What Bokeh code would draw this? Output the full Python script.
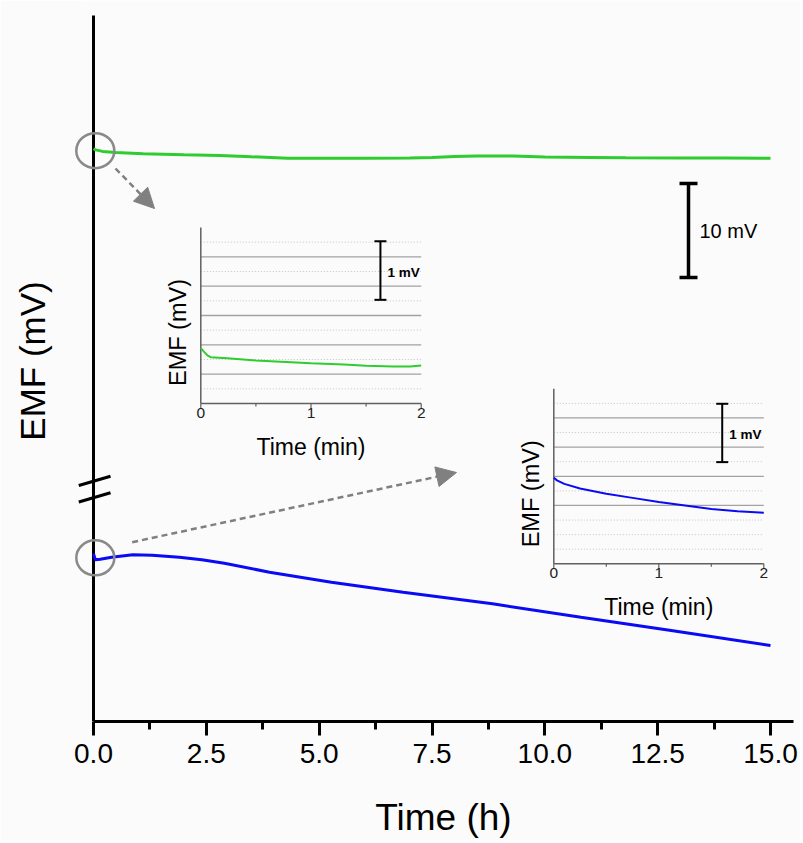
import math
from bokeh.plotting import figure
from bokeh.models import Range1d, FixedTicker, PrintfTickFormatter, Arrow, NormalHead
from bokeh.core.properties import value
from bokeh.embed import file_html
from bokeh.resources import INLINE

# ---------------- data ----------------
x_ticks = [0, 2.5, 5, 7.5, 10, 12.5, 15]
x_minor = [1.25, 3.75, 6.25, 8.75, 11.25, 13.75]

# main traces: time (h) and EMF change (mV) relative to start
green_t = [0, 0.05, 0.2, 0.5, 1.1, 2.0, 2.8, 3.5, 4.3, 5.0, 6.0, 7.0, 7.5, 8.0, 8.5, 9.3, 10.0, 11.0, 11.8, 13.0, 14.0, 15.0]
green_dv = [0, -0.12, -0.28, -0.40, -0.53, -0.64, -0.71, -0.85, -1.00, -1.01, -1.00, -0.98, -0.92, -0.82, -0.76, -0.78, -0.89, -0.93, -0.96, -0.98, -0.99, -1.00]
blue_t = [0, 0.04, 0.15, 0.4, 0.87, 1.3, 1.9, 2.4, 2.9, 3.9, 5.27, 6.86, 8.84, 10.8, 12.8, 15.0]
blue_dv = [0.2, -0.45, -0.40, -0.18, 0.07, 0.03, -0.18, -0.45, -0.82, -1.78, -2.84, -3.90, -5.14, -6.56, -7.98, -9.57]
green_level = 60.93   # display level of the green trace on the broken axis (mV)
blue_level = 17.66    # display level of the blue trace (mV)
scale_bar_mV = 10

# insets: time (min) and EMF (mV, arbitrary offset)
inset_ticks = [0, 1, 2]
inset_minor = [0.5, 1.5]
green_in_t = [0, 0.03, 0.06, 0.09, 0.24, 0.5, 1.0, 1.3, 1.5, 1.75, 1.9, 2.0]
green_in_v = [0.943, 0.88, 0.82, 0.789, 0.772, 0.733, 0.687, 0.664, 0.642, 0.630, 0.632, 0.647]
blue_in_t = [0, 0.03, 0.1, 0.25, 0.5, 0.75, 1.0, 1.25, 1.5, 1.75, 2.0]
blue_in_v = [1.475, 1.43, 1.37, 1.29, 1.20, 1.13, 1.06, 1.00, 0.94, 0.90, 0.875]
inset1_solid = [0.5, 1.0, 1.5, 2.0, 2.5]
inset1_dot = [0.25, 0.75, 1.25, 1.75, 2.25, 2.75]
inset2_solid = [1.0, 1.5, 2.0, 2.5]
inset2_dot = [0.25, 0.5, 0.75, 1.25, 1.75, 2.25, 2.75]
inset_scale_mV = 1

# ---------------- layout ----------------
W, H = 800, 840
FL, FR, FT, FB = 86, 800, 0, 721      # frame box in figure pixels
X0PX = 93                              # pixel of t = 0
KX = 677 / 15                          # px per hour
KY = 9.4                               # px per mV
FONT = value("Liberation Sans")
BG = "#fbfbfb"

x_start = -(X0PX - FL) / KX
x_end = (FR - X0PX) / KX
y_end = (FB - FT) / KY

def px(fx, fy):
    """figure pixel -> main data coords"""
    return (fx - X0PX) / KX, (FB - fy) / KY

p = figure(width=W, height=H, output_backend="svg", toolbar_location=None,
           x_range=Range1d(x_start, x_end), y_range=Range1d(0, y_end),
           min_border_left=FL, min_border_right=W - FR, min_border_top=FT,
           min_border_bottom=H - FB, background_fill_color=BG, border_fill_color=BG)
p.title.visible = False
p.outline_line_color = None
p.grid.visible = False

xa = p.xaxis[0]
xa.ticker = FixedTicker(ticks=x_ticks, minor_ticks=x_minor)
xa.formatter = PrintfTickFormatter(format="%.1f")
xa.bounds = (0, px(793, 0)[0])
xa.axis_line_width = 3
xa.major_tick_line_width = 3
xa.minor_tick_line_width = 3
xa.major_tick_out = 14
xa.major_tick_in = 0
xa.minor_tick_out = 8
xa.minor_tick_in = 0
xa.major_label_text_font = "Liberation Sans"
xa.major_label_text_font_size = "28px"
xa.major_label_text_color = "black"
xa.major_label_standoff = 8
xa.axis_label = "Time (h)"
xa.axis_label_text_font = "Liberation Sans"
xa.axis_label_text_font_size = "37px"
xa.axis_label_text_font_style = "normal"
xa.axis_label_text_color = "black"
xa.axis_label_standoff = 31

ya = p.yaxis[0]
ya.ticker = FixedTicker(ticks=[])
ya.axis_line_color = None
ya.major_tick_line_color = None
ya.minor_tick_line_color = None
ya.axis_label = "EMF (mV)"
ya.axis_label_text_font = "Liberation Sans"
ya.axis_label_text_font_size = "35px"
ya.axis_label_text_font_style = "normal"
ya.axis_label_text_color = "black"
ya.axis_label_standoff = 35

# main y axis line at t = 0 and break marks
p.segment(x0=[0], y0=[0], x1=[0], y1=[px(0, 15)[1]], line_color="black", line_width=3)
for off in (0, 16.5):
    a = px(78.3, 485 + off)
    b = px(110, 475.7 + off)
    r = p.segment(x0=[a[0]], y0=[a[1]], x1=[b[0]], y1=[b[1]], line_color="black", line_width=3)
    r.level = "overlay"

# main traces
p.line(green_t, [green_level + v for v in green_dv], line_color="#2fcc2f", line_width=3)
p.line(blue_t, [blue_level + v for v in blue_dv], line_color="#0a0af5", line_width=3)

# circles marking the zoomed regions
for yv in (green_level - 0.2, blue_level - 0.25):
    r = p.ellipse(x=[0.04], y=[yv], width=38, height=35, width_units="screen", height_units="screen",
                  fill_color=None, line_color="#8a8a8a", line_width=2.5)
    r.level = "overlay"

# dashed arrows
for (sx, sy, ex, ey) in ((115, 168, 154, 208), (131.7, 541.7, 456, 472)):
    s = px(sx, sy); e = px(ex, ey)
    p.add_layout(Arrow(x_start=s[0], y_start=s[1], x_end=e[0], y_end=e[1],
                       line_color="#808080", line_width=2.5, line_dash="6 4",
                       end=NormalHead(size=20, fill_color="#808080", line_color="#808080")))

# 10 mV scale bar
bx = px(688, 0)[0]
b_top = px(0, 183)[1]
b_bot = b_top - scale_bar_mV
cap = 9 / KX
p.segment(x0=[bx, bx - cap, bx - cap], y0=[b_bot, b_bot, b_top], x1=[bx, bx + cap, bx + cap],
          y1=[b_top, b_bot, b_top], line_color="black", line_width=3.5)
p.text(x=[bx], y=[(b_top + b_bot) / 2], text=[f"{scale_bar_mV} mV"], x_offset=11, text_font=FONT,
       text_font_size="20px", text_align="left", text_baseline="middle", text_color="black")

# ---------------- insets ----------------
def add_inset(name, left, top, w, h, t, v, color, solid, dots, bar_x, bar_y0, emf_y):
    kx = w / 2.0
    ky = h / 3.0
    xs = 0 - (left - FL) / kx
    xe = 2 + (FR - (left + w)) / kx
    ys = 0 - (FB - (top + h)) / ky
    ye = 3 + (top - FT) / ky
    xn, yn = name + "x", name + "y"
    p.extra_x_ranges[xn] = Range1d(xs, xe)
    p.extra_y_ranges[yn] = Range1d(ys, ye)
    kw = dict(x_range_name=xn, y_range_name=yn)
    # grid lines
    p.segment(x0=[0] * len(dots), y0=dots, x1=[2] * len(dots), y1=dots,
              line_color="#c4c4c4", line_width=1, line_dash="1 2", **kw)
    p.segment(x0=[0] * len(solid), y0=solid, x1=[2] * len(solid), y1=solid,
              line_color="#a2a2a2", line_width=1.3, **kw)
    # axes
    p.segment(x0=[0, 0], y0=[0, 0], x1=[0, 2], y1=[3, 0], line_color="#606060", line_width=1.5, **kw)
    tl, tm = 5 / ky, 3 / ky
    p.segment(x0=inset_ticks, y0=[0] * 3, x1=inset_ticks, y1=[-tl] * 3, line_color="#606060", line_width=1.2, **kw)
    p.segment(x0=inset_minor, y0=[0] * 2, x1=inset_minor, y1=[-tm] * 2, line_color="#606060", line_width=1.2, **kw)
    p.text(x=inset_ticks, y=[0] * 3, text=[str(k) for k in inset_ticks], y_offset=4, text_font=FONT,
           text_font_size="15.5px", text_align="center", text_baseline="top", text_color="#222222", **kw)
    p.text(x=[1], y=[0], text=["Time (min)"], y_offset=30, text_font=FONT, text_font_size="23px",
           text_align="center", text_baseline="top", text_color="black", **kw)
    p.text(x=[-23 / kx], y=[emf_y], text=["EMF (mV)"], angle=math.pi / 2, text_font=FONT,
           text_font_size="23.5px", text_align="center", text_baseline="middle", text_color="black", **kw)
    # data
    p.line(t, v, line_color=color, line_width=2, **kw)
    # 1 mV scale bar
    c = 6 / kx
    y1 = bar_y0 + inset_scale_mV
    p.segment(x0=[bar_x, bar_x - c, bar_x - c], y0=[bar_y0, bar_y0, y1], x1=[bar_x, bar_x + c, bar_x + c],
              y1=[y1, bar_y0, y1], line_color="black", line_width=2, **kw)
    p.text(x=[bar_x], y=[bar_y0 + 0.47 * inset_scale_mV], text=[f"{inset_scale_mV} mV"], x_offset=7,
           text_font=FONT, text_font_size="13.5px", text_font_style="bold", text_align="left",
           text_baseline="middle", text_color="black", **kw)

add_inset("i1", 200.3, 227, 220.4, 176, green_in_t, green_in_v, "#2fcc2f", inset1_solid, inset1_dot, 1.63, 1.767, 1.21)
add_inset("i2", 553.3, 388.3, 210, 175, blue_in_t, blue_in_v, "#0a0af5", inset2_solid, inset2_dot, 1.604, 1.743, 1.2)

open("out.html", "w").write(file_html(p, INLINE, title="EMF"))
